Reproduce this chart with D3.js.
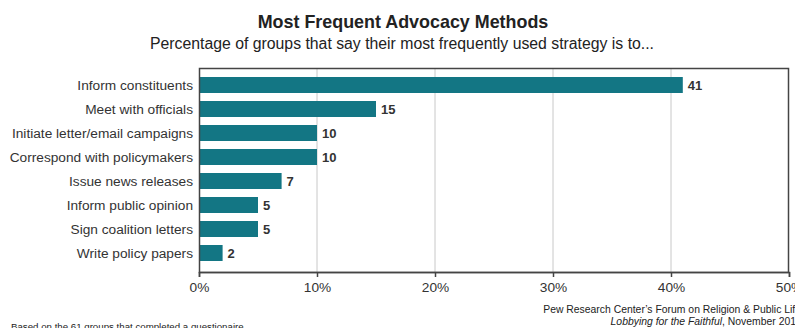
<!DOCTYPE html>
<html>
<head>
<meta charset="utf-8">
<script src="https://cdn.jsdelivr.net/npm/d3@7"></script>
<style>
	html, body { margin: 0; padding: 0; background: #fff; }
	svg { display: block; font-family: "Liberation Sans", Arial, sans-serif; }
</style>
</head>
<body>
<div id="chart"></div>
<script>
	'use strict';

	var categories = ['Inform constituents', 'Meet with officials', 'Initiate letter/email campaigns',
		'Correspond with policymakers', 'Issue news releases', 'Inform public opinion',
		'Sign coalition letters', 'Write policy papers'];
	var values = [41, 15, 10, 10, 7, 5, 5, 2];
	var xTicks = [0, 10, 20, 30, 40, 50];

	var width = 795, height = 328;
	var margin = {top: 68, right: 6, bottom: 58, left: 199};

	var svg = d3.select('#chart')
		.append('svg')
		.attr('width', width)
		.attr('height', height);

	// titles
	svg.append('text')
		.attr('x', 403).attr('y', 28)
		.attr('text-anchor', 'middle')
		.attr('font-size', '17.9px').attr('font-weight', 'bold')
		.attr('fill', '#222')
		.text('Most Frequent Advocacy Methods');
	svg.append('text')
		.attr('x', 402).attr('y', 49)
		.attr('text-anchor', 'middle')
		.attr('font-size', '15.8px')
		.attr('fill', '#222')
		.text('Percentage of groups that say their most frequently used strategy is to...');

	var x = d3.scaleLinear()
		.domain([0, 50])
		.range([margin.left, width - margin.right]);

	var y = d3.scaleBand()
		.domain(categories)
		.range([margin.top + 5, height - margin.bottom - 5])
		.paddingInner(1 / 3)
		.paddingOuter(1 / 6);

	var plotBottom = height - margin.bottom + 2;

	// gridlines
	svg.append('g')
		.selectAll('line')
		.data(xTicks.slice(1, -1))
		.enter().append('line')
		.attr('x1', function (d) { return x(d); })
		.attr('x2', function (d) { return x(d); })
		.attr('y1', margin.top)
		.attr('y2', plotBottom)
		.attr('stroke', '#c8c8c8')
		.attr('stroke-width', 1);

	// bars
	svg.append('g')
		.selectAll('rect')
		.data(values)
		.enter().append('rect')
		.attr('x', x(0))
		.attr('y', function (d, i) { return y(categories[i]); })
		.attr('width', function (d) { return x(d) - x(0); })
		.attr('height', y.bandwidth())
		.attr('fill', '#137684');

	// value labels
	svg.append('g')
		.selectAll('text')
		.data(values)
		.enter().append('text')
		.attr('x', function (d) { return x(d) + 5; })
		.attr('y', function (d, i) { return y(categories[i]) + y.bandwidth() / 2 + 5; })
		.attr('font-size', '13px').attr('font-weight', 'bold')
		.attr('fill', '#333')
		.text(function (d) { return d; });

	// category labels
	svg.append('g')
		.selectAll('text')
		.data(categories)
		.enter().append('text')
		.attr('x', margin.left - 6)
		.attr('y', function (d) { return y(d) + y.bandwidth() / 2 + 5; })
		.attr('text-anchor', 'end')
		.attr('font-size', '13.7px')
		.attr('fill', '#333')
		.text(function (d) { return d; });

	// frame
	svg.append('rect')
		.attr('x', x(0) + 0.5).attr('y', margin.top + 0.5)
		.attr('width', x(50) - x(0) - 1)
		.attr('height', plotBottom - margin.top)
		.attr('fill', 'none')
		.attr('stroke', '#444')
		.attr('stroke-width', 1.5);

	// x axis
	var xAxis = svg.append('g')
		.attr('transform', 'translate(0,' + plotBottom + ')')
		.call(d3.axisBottom(x)
			.tickValues(xTicks)
			.tickSize(5)
			.tickFormat(function (d) { return d + '%'; }));
	xAxis.select('.domain').attr('stroke', '#444').attr('stroke-width', 1.5);
	xAxis.selectAll('.tick line').attr('stroke', '#444').attr('stroke-width', 1.5);
	xAxis.selectAll('.tick text')
		.attr('font-family', '"Liberation Sans", Arial, sans-serif')
		.attr('font-size', '13.7px')
		.attr('fill', '#333')
		.attr('dy', '0.9em');

	// source notes
	svg.append('text')
		.attr('x', 11).attr('y', 330)
		.attr('font-size', '9.7px')
		.attr('fill', '#222')
		.text('Based on the 61 groups that completed a questionaire');

	var source = svg.append('text')
		.attr('x', 801).attr('y', 313)
		.attr('text-anchor', 'end')
		.attr('font-size', '10.4px')
		.attr('fill', '#222');
	source.append('tspan').text('Pew Research Center\u2019s Forum on Religion & Public Life');
	var line2 = svg.append('text')
		.attr('x', 801).attr('y', 325)
		.attr('text-anchor', 'end')
		.attr('font-size', '10.4px')
		.attr('fill', '#222');
	line2.append('tspan').attr('font-style', 'italic').text('Lobbying for the Faithful');
	line2.append('tspan').text(', November 2011');
</script>
</body>
</html>
